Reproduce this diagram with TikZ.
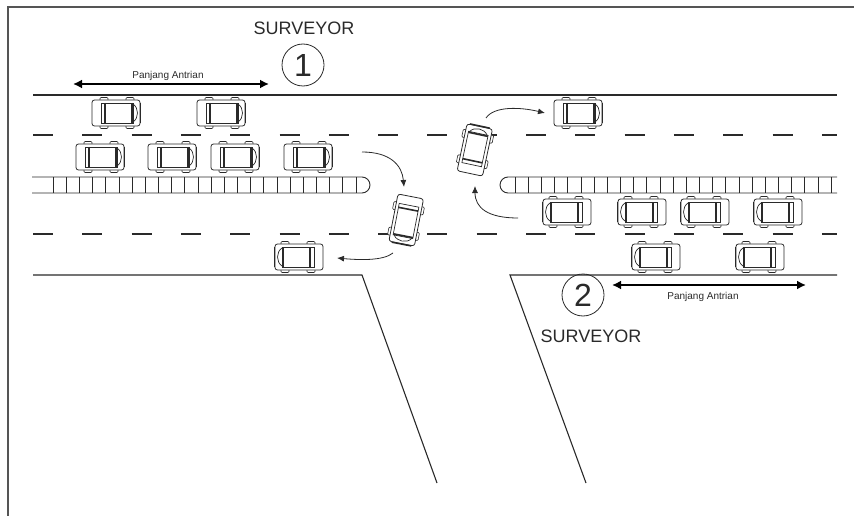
\documentclass[tikz,border=0pt]{standalone}
\usepackage{fontspec}
\setmainfont{Liberation Sans}
\usetikzlibrary{arrows.meta}
\definecolor{ink}{HTML}{2A2A2A}
\definecolor{frame}{HTML}{555555}
\begin{document}
\begin{tikzpicture}[x=1pt,y=-1pt,
  road/.style={draw=ink, line width=1.1pt},
  lanemark/.style={draw=ink, line width=1.1pt, dash pattern=on 20pt off 29.3pt},
  moveline/.style={draw=ink, line width=0.8pt, -{Latex[length=7pt,width=6pt]}},
  queue/.style={draw=black, line width=2.3pt, {Latex[length=9pt,width=9pt]}-{Latex[length=9pt,width=9pt]}},
  station/.style={circle, draw=ink, line width=0.8pt, minimum size=42pt, inner sep=0pt,
    font=\fontsize{32}{32}\selectfont, text=ink},
  tag/.style={font=\fontsize{18}{18}\selectfont, text=ink, inner sep=0pt},
  qtext/.style={font=\fontsize{10}{10}\selectfont, text=ink, inner sep=0pt},
  car/.pic={
    % wheels
    \foreach \wx in {-17,9}{
      \draw[ink, line width=0.6pt, fill=white, rounded corners=1pt] (\wx,-15.5) rectangle (\wx+8,-12);
      \draw[ink, line width=0.6pt, fill=white, rounded corners=1pt] (\wx,12) rectangle (\wx+8,15.5);
    }
    % body
    \draw[ink, line width=0.8pt, fill=white, rounded corners=2.5pt] (-25,-13) rectangle (23,13);
    % cabin
    \draw[ink, line width=0.7pt] (-16,-10) rectangle (16,10);
    \draw[ink, line width=1.6pt] (-12,-10) -- (-12,10);
    \draw[ink, line width=1.6pt] (15,-10) -- (15,10);
    \draw[ink, line width=0.7pt] (16,-9) .. controls (22,-5) and (22,5) .. (16,9);
    % front bumper
    \draw[ink, line width=1.5pt] (23.5,-10) -- (23.5,10);
  }
]
\useasboundingbox (0,0) rectangle (854,516);

% page frame
\draw[frame, line width=1.5pt] (8,516) -- (8,7) -- (854,7);

% road edges
\draw[road] (33,95) -- (837,95);
\draw[road] (33,275) -- (362,275) -- (437,483);
\draw[road] (837,275) -- (510,275) -- (586,483);

% lane markings
\draw[lanemark] (33,135) -- (837,135);
\draw[lanemark] (33,234) -- (837,234);

% medians
\draw[road, line width=0.9pt] (32,177) -- (362,177) arc(-90:90:8) -- (32,193);
\foreach \i in {0,...,23}
  \draw[ink, line width=0.7pt] (53+13.17*\i,177) -- ++(0,16);
\draw[road, line width=0.9pt] (837,177) -- (508,177) arc(-90:-270:8) -- (837,193);
\foreach \i in {0,...,24}
  \draw[ink, line width=0.7pt] (515+13.17*\i,177) -- ++(0,16);

% cars heading east
\pic at (117,113) {car};
\pic at (222,113) {car};
\pic at (579,113) {car};
\pic at (101,157) {car};
\pic at (173,157) {car};
\pic at (236,157) {car};
\pic at (309,157) {car};
% cars heading west
\pic[rotate=180] at (566,212) {car};
\pic[rotate=180] at (641,212) {car};
\pic[rotate=180] at (704,212) {car};
\pic[rotate=180] at (777,212) {car};
\pic[rotate=180] at (655,257) {car};
\pic[rotate=180] at (759,257) {car};
\pic[rotate=180] at (298,257) {car};
% turning cars
\pic[rotate=-101] at (406,221) {car};
\pic[rotate=78] at (475,149) {car};

% turning movements
\coordinate (m1a) at (362,152);
\coordinate (m1b) at (404,187);
\coordinate (m2a) at (393,253);
\coordinate (m2b) at (337,258);
\coordinate (m3a) at (486,118);
\coordinate (m3b) at (545,113);
\coordinate (m4a) at (518,218);
\coordinate (m4b) at (475,186);
\draw[moveline] (m1a) .. controls +(28,0) and +(-2,-22) .. (m1b);
\draw[moveline] (m2a) .. controls +(-10,8) and +(22,2) .. (m2b);
\draw[moveline] (m3a) .. controls +(8,-12) and +(-25,-6) .. (m3b);
\draw[moveline] (m4a) .. controls +(-30,0) and +(0,22) .. (m4b);

% queue length markers
\coordinate (q1a) at (73,84);
\coordinate (q1b) at (269,84);
\draw[queue] (q1a) -- (q1b);
\node[qtext] (q1t) at (168,76) {Panjang Antrian};
\coordinate (q2a) at (612,285);
\coordinate (q2b) at (806,285);
\draw[queue] (q2a) -- (q2b);
\node[qtext] (q2t) at (703,297) {Panjang Antrian};

% surveyor posts
\node[tag] (s1) at (304,28) {SURVEYOR};
\node[station] (p1) at (303,65) {1};
\node[station] (p2) at (583,295) {2};
\node[tag] (s2) at (591,336) {SURVEYOR};
\end{tikzpicture}
\end{document}
